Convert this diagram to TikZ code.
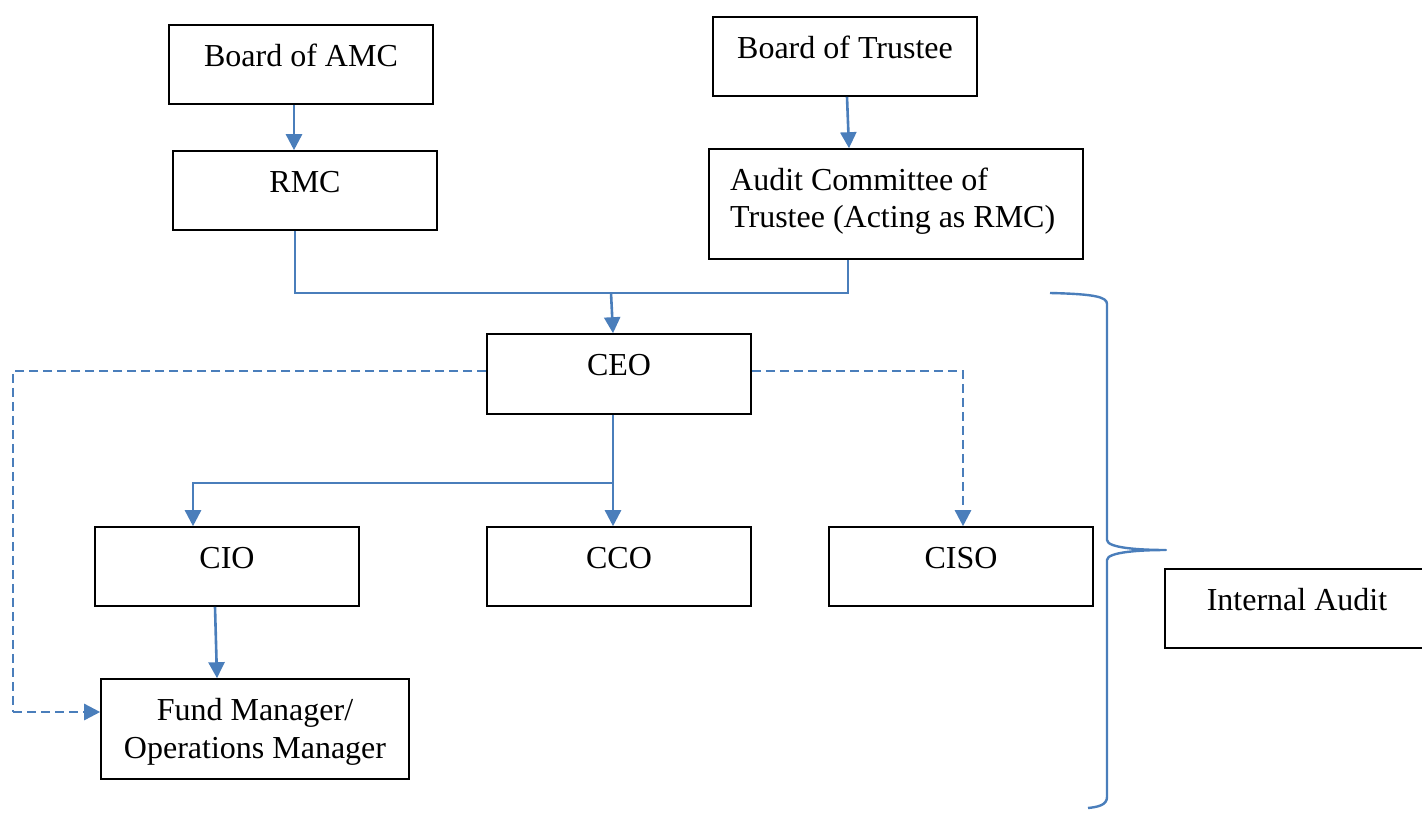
\documentclass[tikz,border=0pt]{standalone}
\usepackage{fontspec}
\setmainfont{Liberation Serif}
\usetikzlibrary{arrows.meta}
\definecolor{wblue}{HTML}{4A7EBB}
\tikzset{
  box/.style={draw=black, line width=1.6pt, inner sep=0pt, fill=white},
  txt/.style={anchor=base, inner sep=0pt, font=\fontsize{32}{37}\selectfont},
  conn/.style={draw=wblue, line width=2.6pt},
  arr/.style={conn, -{Triangle[length=16pt,width=16pt]}},
  darr/.style={arr, dash pattern=on 9pt off 5pt},
  dline/.style={conn, dash pattern=on 9pt off 5pt},
}
\begin{document}
\begin{tikzpicture}[x=1pt,y=-1pt]
\useasboundingbox (0,0) rectangle (1422,812);
% boxes
\node[box, minimum width=264pt, minimum height=79pt] (amc) at (301,64.5) {};
\node[box, minimum width=264pt, minimum height=79pt] (bot) at (845,56.5) {};
\node[box, minimum width=264pt, minimum height=79pt] (rmc) at (305,190.5) {};
\node[box, minimum width=374pt, minimum height=110pt] (acm) at (896,204) {};
\node[box, minimum width=264pt, minimum height=80pt] (ceo) at (619,374) {};
\node[box, minimum width=264pt, minimum height=79pt] (cio) at (227,566.5) {};
\node[box, minimum width=264pt, minimum height=79pt] (cco) at (619,566.5) {};
\node[box, minimum width=264pt, minimum height=79pt] (ciso) at (961,566.5) {};
\node[box, minimum width=258pt, minimum height=79pt] (ia) at (1294,608.5) {};
\node[box, minimum width=308pt, minimum height=100pt] (fm) at (255,729) {};
% texts
\node[txt] (amct) at (301,66) {Board of AMC};
\node[txt] (bott) at (845,58) {Board of Trustee};
\node[txt] (rmct) at (305,192) {RMC};
\node[txt, anchor=base west] (acmt1) at (730,190) {Audit Committee of};
\node[txt, anchor=base west] (acmt2) at (730,227) {Trustee (Acting as RMC)};
\node[txt] (ceot) at (619,375) {CEO};
\node[txt] (ciot) at (227,568) {CIO};
\node[txt] (ccot) at (619,568) {CCO};
\node[txt] (cisot) at (961,568) {CISO};
\node[txt] (iat) at (1297,610) {Internal Audit};
\node[txt] (fmt1) at (255,720) {Fund Manager/};
\node[txt] (fmt2) at (255,758) {Operations Manager};
% coordinates
\coordinate (j1) at (295,293);
\coordinate (j2) at (848,293);
\coordinate (j3) at (611,293);
\coordinate (k1) at (613,483);
\coordinate (k2) at (193,483);
\coordinate (dl) at (13,371);
\coordinate (dl2) at (13,712);
\coordinate (dr) at (963,371);
% solid connectors
\draw[arr] (amc.south -| 294,0) -- (rmc.north -| 294,0);
\draw[arr] (bot.south -| 847,0) -- (acm.north -| 849,0);
\draw[conn] (rmc.south -| j1) -- (j1) -- (j2) -- (acm.south -| j2);
\draw[arr] (j3) -- (ceo.north -| 613,0);
\draw[arr] (ceo.south -| k1) -- (cco.north -| k1);
\draw[arr] (k1) -- (k2) -- (cio.north -| k2);
\draw[arr] (cio.south -| 215,0) -- (fm.north -| 217,0);
% dashed connectors
\draw[dline] (ceo.west |- dl) -- (dl) -- (dl2);
\draw[darr] (dl2) -- (fm.west |- dl2);
\draw[darr] (ceo.east |- dr) -- (dr) -- (ciso.north -| dr);
% brace
\coordinate (b0) at (1050,293);
\coordinate (b1) at (1107,304);
\coordinate (b2) at (1107,540);
\coordinate (tip) at (1166,550);
\coordinate (b3) at (1107,560);
\coordinate (b4) at (1107,797);
\coordinate (b5) at (1088,808);
\draw[conn, line width=2.4pt, line join=round]
  (b0) .. controls (1095,294) and (1107,297) .. (b1) -- (b2)
  .. controls (1107,548) and (1140,550) .. (tip)
  .. controls (1140,550) and (1107,552) .. (b3) -- (b4)
  .. controls (1107,805) and (1098,807) .. (b5);
\end{tikzpicture}
\end{document}
